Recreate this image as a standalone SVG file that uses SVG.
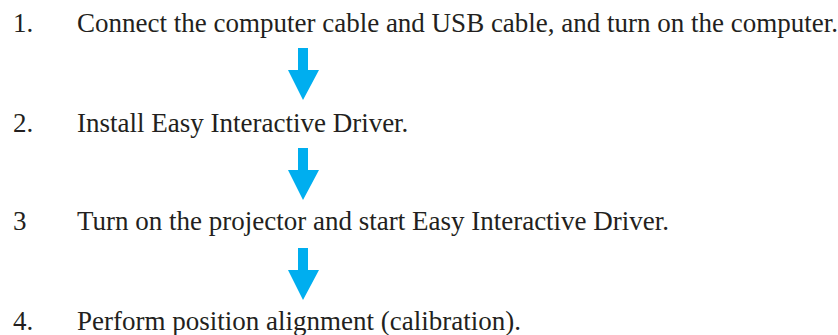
<svg xmlns="http://www.w3.org/2000/svg" width="838" height="335" viewBox="0 0 838 335">
<defs>
<style>
text{font-family:"Liberation Serif","Times New Roman",serif;font-size:27px;fill:#231f20}
.arrow{fill:#00aeef}
</style>
<path id="arr" class="arrow" d="M298 0H308V22H319L303 52L288 22H298Z"/>
</defs>
<rect width="838" height="335" fill="#fff"/>
<g id="step1"><text x="13" y="32">1.</text><text x="77" y="32">Connect the computer cable and USB cable, and turn on the computer.</text></g>
<g id="step2"><text x="13" y="132">2.</text><text x="77" y="132">Install Easy Interactive Driver.</text></g>
<g id="step3"><text x="13" y="230">3</text><text x="77" y="230">Turn on the projector and start Easy Interactive Driver.</text></g>
<g id="step4"><text x="13" y="330">4.</text><text x="77" y="330">Perform position alignment (calibration).</text></g>
<g id="connectors">
<use href="#arr" y="48"/>
<use href="#arr" y="148"/>
<use href="#arr" y="248"/>
</g>
</svg>
